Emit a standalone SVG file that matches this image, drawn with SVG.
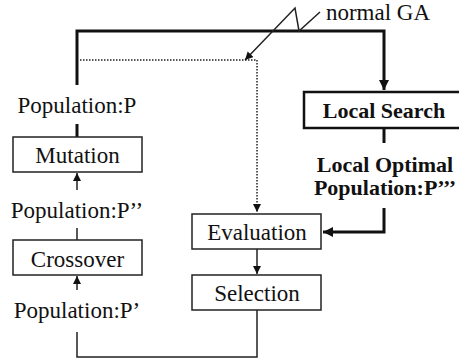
<svg xmlns="http://www.w3.org/2000/svg" width="459" height="362" viewBox="0 0 459 362">
<style>
text{font-family:"Liberation Serif","Times New Roman","DejaVu Serif",serif;font-size:23px;fill:#111;text-anchor:middle}
.b{font-weight:bold;font-size:22px}
.box{fill:#fff;stroke:#222;stroke-width:1.5}
.tbox{fill:#fff;stroke:#111;stroke-width:2.5}
.thin{fill:none;stroke:#222;stroke-width:1.5}
.thick{fill:none;stroke:#111;stroke-width:3}
.dot{fill:none;stroke:#222;stroke-width:1.5;stroke-dasharray:1.5 1.5}
</style>
<defs>
<marker id="a" markerUnits="userSpaceOnUse" markerWidth="12" markerHeight="12" refX="10" refY="5" orient="auto"><path d="M0,0 L10,5 L0,10 Z" fill="#111"/></marker>
<marker id="as" markerUnits="userSpaceOnUse" markerWidth="10" markerHeight="10" refX="8" refY="4" orient="auto"><path d="M0,0 L8,4 L0,8 Z" fill="#111"/></marker>
</defs>
<g id="connectors">
<path class="thick" d="M77,85 V31 H384 V90" marker-end="url(#a)"/>
<path class="thick" d="M77,124 V137"/>
<path class="thick" d="M384,128 V143"/>
<path class="thick" d="M384,208 V232 H323" marker-end="url(#a)"/>
<path class="dot" d="M80,60 H257 V212" marker-end="url(#as)"/>
<path class="thin" d="M320,12 L299,31 L295,8 L245,60" marker-end="url(#as)"/>
<path class="thin" d="M77,190 V173" marker-end="url(#as)"/>
<path class="thin" d="M77,228 V240"/>
<path class="thin" d="M77,290 V276" marker-end="url(#as)"/>
<path class="thin" d="M257,249 V274" marker-end="url(#as)"/>
<path class="thin" d="M257,310 V357 H77 V332"/>
</g>
<g id="label-normal-ga"><text x="378" y="20">normal GA</text></g>
<g id="label-pop-p"><text x="77" y="113">Population:P</text></g>
<g id="mutation"><rect class="box" x="13" y="137" width="129" height="35"/><text x="77.5" y="163">Mutation</text></g>
<g id="label-pop-p2"><text x="77" y="218">Population:P’’</text></g>
<g id="crossover"><rect class="box" x="13" y="240" width="129" height="35"/><text x="77.5" y="267">Crossover</text></g>
<g id="label-pop-p1"><text x="77" y="318">Population:P’</text></g>
<g id="local-search"><rect class="tbox" x="304" y="92" width="160" height="36"/><text class="b" x="384" y="118">Local Search</text></g>
<g id="label-local-optimal"><text class="b" x="385" y="172">Local Optimal</text><text class="b" x="385" y="195">Population:P’’’</text></g>
<g id="evaluation"><rect class="box" x="192" y="214" width="129" height="35"/><text x="257" y="240">Evaluation</text></g>
<g id="selection"><rect class="box" x="192" y="275" width="129" height="35"/><text x="257" y="301">Selection</text></g>
</svg>
